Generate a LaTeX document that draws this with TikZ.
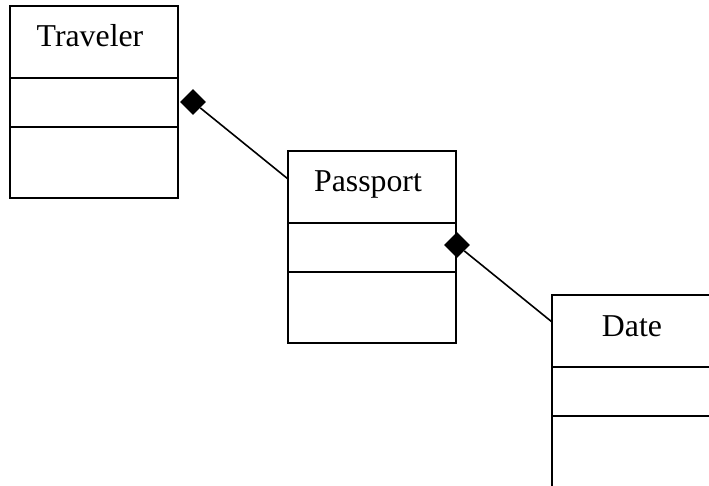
\documentclass[tikz,border=0pt]{standalone}
\usepackage{fontspec}
\setmainfont{Liberation Serif}
\usetikzlibrary{shapes.geometric}
\begin{document}
\begin{tikzpicture}[x=1pt,y=-1pt,
  classbox/.style={draw,line width=1.9pt,minimum width=168pt,minimum height=192pt,
    inner sep=0pt,outer sep=0pt,anchor=north west},
  divider/.style={line width=1.9pt},
  classname/.style={anchor=base,inner sep=0pt,font=\fontsize{31.8}{38}\selectfont},
  compdiamond/.style={diamond,fill=black,draw=none,inner sep=0pt,
    minimum width=26pt,minimum height=26pt},
  assoc/.style={line width=1.6pt}]
  \useasboundingbox (0,0) rectangle (709,486);
  \clip (0,0) rectangle (709,486);

  % class boxes
  \node[classbox] (traveler) at (10,6) {};
  \node[classbox] (passport) at (288,151) {};
  \node[classbox,minimum height=210pt] (date) at (552,295) {};

  % compartment dividers
  \foreach \c in {traveler,passport,date}{
    \draw[divider] ([yshift=-72pt]\c.north west) -- ([yshift=-72pt]\c.north east);
    \draw[divider] ([yshift=-121pt]\c.north west) -- ([yshift=-121pt]\c.north east);
  }

  % class names
  \node[classname] (travelerName) at ([xshift=-4pt,yshift=-41pt]traveler.north) {Traveler};
  \node[classname] (passportName) at ([xshift=-4pt,yshift=-41pt]passport.north) {Passport};
  \node[classname] (dateName) at ([xshift=-4pt,yshift=-41pt]date.north) {Date};

  % composition ends
  \node[compdiamond] (comp1) at (193,102) {};
  \node[compdiamond] (comp2) at (457,245) {};

  % associations
  \draw[assoc] (comp1) -- ([yshift=-28pt]passport.north west);
  \draw[assoc] (comp2) -- ([yshift=-27pt]date.north west);
\end{tikzpicture}
\end{document}
